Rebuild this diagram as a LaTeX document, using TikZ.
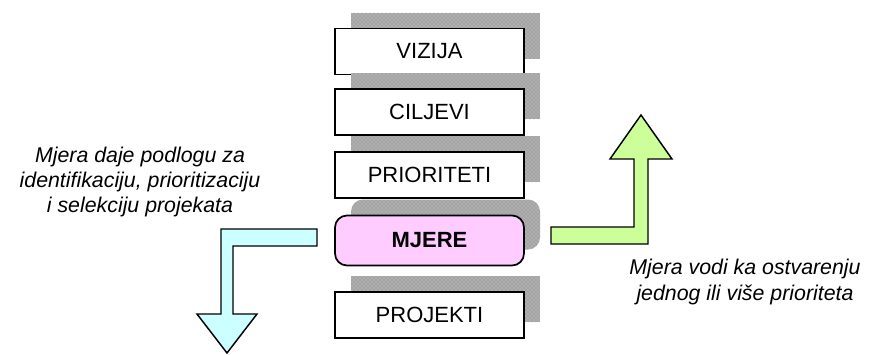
\documentclass[tikz,border=0pt]{standalone}
\usepackage{fontspec}
\setmainfont{Liberation Sans}
\usetikzlibrary{shadows,patterns}

\definecolor{mjerepink}{HTML}{FFCCFF}
\definecolor{arrowcyan}{HTML}{CCFFFF}
\definecolor{arrowgreen}{HTML}{CCFF99}
\definecolor{shadowgray}{HTML}{A4A4A4}

\tikzset{
  levelbox/.style={draw,line width=1.3pt,fill=white,minimum width=141.75pt,
    minimum height=34.5pt,font=\fontsize{16.5}{19}\selectfont,
    general shadow={shadow xshift=12pt,shadow yshift=12pt,fill=shadowgray,
      postaction={pattern=crosshatch dots,pattern color=gray!35}}},
  bentarrow/.style={draw,line width=1.1pt,line join=miter},
  note/.style={align=center,font=\fontsize{16}{19}\selectfont\itshape}
}

\begin{document}
\begin{tikzpicture}[x=0.75pt,y=-0.75pt]
  \useasboundingbox (0,0) rectangle (872,354);
  % Levels
  \node[levelbox] (vizija) at (429.5,51.5) {VIZIJA};
  \node[levelbox] (ciljevi) at (429.5,112) {CILJEVI};
  \node[levelbox] (prioriteti) at (429.5,175) {PRIORITETI};
  \node[levelbox,rounded corners=9pt,fill=mjerepink,minimum height=37.5pt,
    font=\fontsize{16.5}{19}\selectfont\bfseries] (mjere) at (429.5,240.5) {MJERE};
  \node[levelbox] (projekti) at (429.5,315) {PROJEKTI};
  % Arrow down to the left
  \draw[bentarrow,fill=arrowcyan] (317,229) -- (221,229) -- (221,314) -- (197,314)
    -- (227,353) -- (257,314) -- (233,314) -- (233,246) -- (317,246) -- cycle;
  % Arrow up to the right
  \draw[bentarrow,fill=arrowgreen] (551,227) -- (634,227) -- (634,159) -- (610,159)
    -- (641,115) -- (672,159) -- (648,159) -- (648,244) -- (551,244) -- cycle;
  % Notes
  \node[note] (leftnote) at (140,182) {Mjera daje podlogu za\\identifikaciju, prioritizaciju\\i selekciju projekata};
  \node[note] (rightnote) at (745,282) {Mjera vodi ka ostvarenju\\jednog ili više prioriteta};
\end{tikzpicture}
\end{document}
